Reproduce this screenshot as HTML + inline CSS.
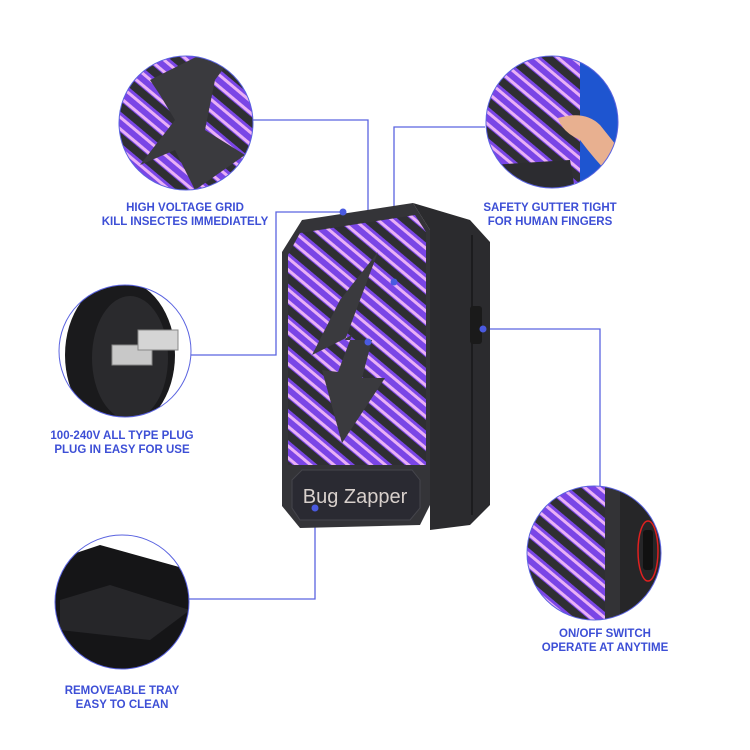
<!DOCTYPE html>
<html><head><meta charset="utf-8"><style>
html,body{margin:0;padding:0;background:#fff}
svg{display:block}
text{font-family:"Liberation Sans",Arial,sans-serif;font-weight:bold;font-size:11.5px;fill:#3d4fd6;text-anchor:middle}
</style></head><body>
<svg width="750" height="750" viewBox="0 0 750 750" xmlns="http://www.w3.org/2000/svg">
<defs>
<pattern id="glow" width="20" height="9" patternUnits="userSpaceOnUse">
<rect width="20" height="9" fill="#7a45e6"/>
<rect y="2" width="20" height="3" fill="#e9b0f6"/>
</pattern>
<pattern id="bars" width="24" height="24" patternUnits="userSpaceOnUse" patternTransform="rotate(40)">
<rect width="24" height="24" fill="url(#glow)"/>
<rect width="24" height="8" fill="#2f2f33"/>
</pattern>
<clipPath id="c1"><circle cx="186" cy="123" r="67"/></clipPath>
<clipPath id="c2"><circle cx="552" cy="122" r="66"/></clipPath>
<clipPath id="c3"><circle cx="125" cy="351" r="66"/></clipPath>
<clipPath id="c4"><circle cx="122" cy="602" r="67"/></clipPath>
<clipPath id="c5"><circle cx="594" cy="553" r="67"/></clipPath>
</defs>

<g stroke="#5a63e0" stroke-width="1.3" fill="none">
<polyline points="253,120 368,120 368,342"/>
<polyline points="485,127 394,127 394,282"/>
<polyline points="343,212 276,212 276,355 191,355"/>
<polyline points="483,329 600,329 600,486"/>
<polyline points="315,508 315,599 189,599"/>
</g>

<g clip-path="url(#c1)">
<rect x="110" y="50" width="150" height="150" fill="url(#bars)"/>
<polygon points="150,80 200,55 230,60 215,80 205,130 245,155 195,190 175,150 140,165 175,120 160,95" fill="#3a3a3e"/>
</g>
<circle cx="186" cy="123" r="67" fill="none" stroke="#5a63e0" stroke-width="1"/>

<g clip-path="url(#c2)">
<rect x="480" y="50" width="150" height="150" fill="#1e55d0"/>
<rect x="480" y="50" width="100" height="150" fill="url(#bars)"/>
<polygon points="490,165 570,160 575,190 490,190" fill="#2c2c30"/>
<path d="M558,118 Q585,110 600,125 L620,150 L610,175 Q595,160 580,140 Q562,132 558,118Z" fill="#e8b090"/>
</g>
<circle cx="552" cy="122" r="66" fill="none" stroke="#5a63e0" stroke-width="1"/>

<g clip-path="url(#c3)">
<rect x="55" y="280" width="140" height="145" fill="#fff"/>
<ellipse cx="120" cy="355" rx="55" ry="75" fill="#1a1a1c"/>
<ellipse cx="130" cy="358" rx="38" ry="62" fill="#2a2a2d"/>
<rect x="112" y="345" width="40" height="20" fill="#c8c8c8" stroke="#888"/>
<rect x="138" y="330" width="40" height="20" fill="#d5d5d5" stroke="#888"/>
</g>
<circle cx="125" cy="351" r="66" fill="none" stroke="#5a63e0" stroke-width="1"/>

<g clip-path="url(#c4)">
<rect x="50" y="530" width="150" height="150" fill="#fff"/>
<polygon points="55,560 100,545 190,570 190,680 55,680" fill="#151517"/>
<polygon points="60,600 110,585 190,610 150,640 60,630" fill="#262629"/>
</g>
<circle cx="122" cy="602" r="67" fill="none" stroke="#5a63e0" stroke-width="1"/>

<g clip-path="url(#c5)">
<rect x="525" y="485" width="80" height="140" fill="url(#bars)"/>
<rect x="605" y="485" width="60" height="140" fill="#333336"/>
<rect x="620" y="485" width="45" height="140" fill="#262628"/>
<rect x="643" y="530" width="10" height="40" rx="3" fill="#111"/>
</g>
<ellipse cx="648" cy="551" rx="10" ry="30" fill="none" stroke="#e02020" stroke-width="1.5"/>
<circle cx="594" cy="553" r="67" fill="none" stroke="#5a63e0" stroke-width="1"/>

<polygon points="413,203 470,220 490,242 490,505 470,525 430,530 430,230" fill="#2b2b2e"/>
<line x1="472" y1="235" x2="472" y2="515" stroke="#1c1c1e" stroke-width="2"/>
<polygon points="302,220 413,203 430,230 430,505 420,525 300,528 282,506 282,252" fill="#343438"/>
<polygon points="300,233 415,215 426,232 426,465 288,465 288,255" fill="url(#bars)"/>
<polygon points="378,252 340,300 312,355 352,335 338,372 322,370 342,443 385,378 362,378 372,340 345,340" fill="#3a3a3e"/>
<rect x="470" y="306" width="12" height="38" rx="3" fill="#1a1a1a"/>
<polygon points="302,470 412,470 420,480 420,508 410,520 300,520 292,508 292,480" fill="#2a2a32" stroke="#45454c"/>
<text x="355" y="503" style="font-weight:normal;font-size:20px;fill:#d8d0cc">Bug Zapper</text>

<g fill="#4a5ae0">
<circle cx="368" cy="342" r="3.5"/><circle cx="394" cy="282" r="3.5"/>
<circle cx="343" cy="212" r="3.5"/><circle cx="483" cy="329" r="3.5"/>
<circle cx="315" cy="508" r="3.5"/>
</g>

<text x="185" y="211">HIGH  VOLTAGE  GRID</text>
<text x="185" y="225">KILL  INSECTES  IMMEDIATELY</text>
<text x="550" y="211">SAFETY GUTTER TIGHT</text>
<text x="550" y="225">FOR HUMAN FINGERS</text>
<text x="122" y="439">100-240V ALL TYPE PLUG</text>
<text x="122" y="453">PLUG IN EASY FOR USE</text>
<text x="122" y="694">REMOVEABLE TRAY</text>
<text x="122" y="708">EASY TO  CLEAN</text>
<text x="605" y="637">ON/OFF SWITCH</text>
<text x="605" y="651">OPERATE AT ANYTIME</text>
</svg>
</body></html>
